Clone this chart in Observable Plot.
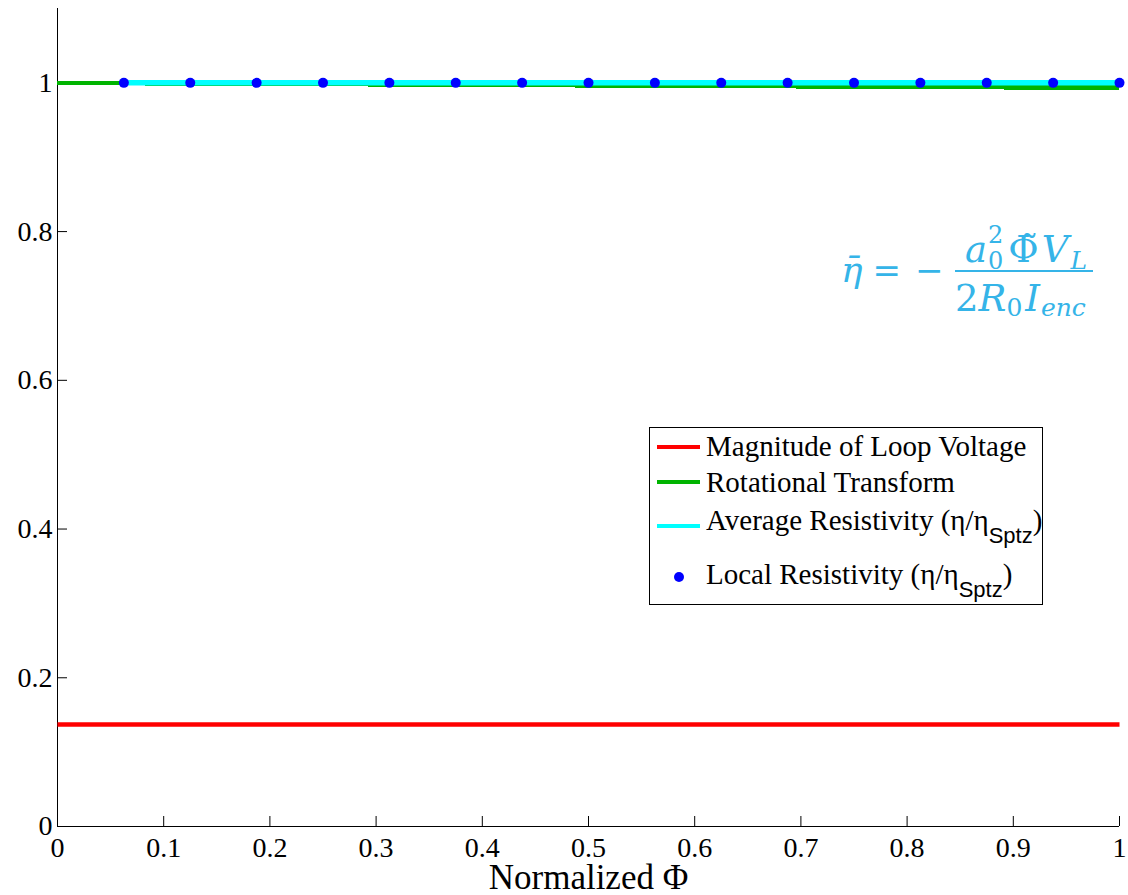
<!DOCTYPE html>
<html>
<head>
<meta charset="utf-8">
<script src="https://cdn.jsdelivr.net/npm/d3@7"></script>
<script src="https://cdn.jsdelivr.net/npm/@observablehq/plot@0.6"></script>
<style>
  body { margin: 0; background: #fff; }
  #chart { position: relative; width: 1128px; height: 895px; }
  #chart svg { font-family: "Liberation Serif", "Times New Roman", serif; }
  #chart svg.overlay { position: absolute; left: 0; top: 0; pointer-events: none; }
  #chart svg .math { font-family: "DejaVu Serif", serif; }
  .crisp { shape-rendering: crispEdges; }
</style>
</head>
<body>
<div id="chart"></div>
<script>
// Normalized toroidal flux at the sampled flux surfaces
const phi = [0, 0.0625, 0.125, 0.1875, 0.25, 0.3125, 0.375, 0.4375, 0.5,
             0.5625, 0.625, 0.6875, 0.75, 0.8125, 0.875, 0.9375, 1];
// Magnitude of loop voltage (normalized)
const loopVoltage = [0.137, 0.137, 0.137, 0.137, 0.137, 0.137, 0.137, 0.137, 0.137,
                     0.137, 0.137, 0.137, 0.137, 0.137, 0.137, 0.137, 0.137];
// Rotational transform (normalized)
const rotationalTransform = [1.0, 0.9996, 0.9992, 0.9988, 0.9984, 0.9980, 0.9975, 0.9971, 0.9967,
                             0.9963, 0.9959, 0.9955, 0.9950, 0.9946, 0.9942, 0.9938, 0.9934];
// Flux-averaged resistivity eta/eta_Spitzer (undefined on axis)
const averageResistivity = [null, 1, 1, 1, 1, 1, 1, 1, 1, 1, 1, 1, 1, 1, 1, 1, 1];
// Local resistivity eta/eta_Spitzer at each surface
const localPhi = [0.0625, 0.125, 0.1875, 0.25, 0.3125, 0.375, 0.4375, 0.5,
                  0.5625, 0.625, 0.6875, 0.75, 0.8125, 0.875, 0.9375, 1];
const localResistivity = [1, 1, 1, 1, 1, 1, 1, 1, 1, 1, 1, 1, 1, 1, 1, 1];

const xTicks = [0, 0.1, 0.2, 0.3, 0.4, 0.5, 0.6, 0.7, 0.8, 0.9, 1];
const yTicks = [0, 0.2, 0.4, 0.6, 0.8, 1];
const xLabel = "Normalized Φ";

const seriesNames = ["Magnitude of Loop Voltage", "Rotational Transform",
                     "Average Resistivity (η/η", "Local Resistivity (η/η"];
const seriesSubs = [null, null, "Sptz", "Sptz"];
const seriesColors = ["#ff0000", "#00b400", "#00ffff", "#0000ff"];
const formulaColor = "#35b4e8";

const rows = phi.map((p, i) => ({
  phi: p,
  loop: loopVoltage[i],
  rot: rotationalTransform[i],
  avg: averageResistivity[i]
}));
const local = localPhi.map((p, i) => ({phi: p, eta: localResistivity[i]}));

const plot = Plot.plot({
  width: 1128,
  height: 895,
  marginLeft: 57,
  marginRight: 9,
  marginTop: 8,
  marginBottom: 69,
  style: {fontFamily: "Liberation Serif", background: "#fff", color: "#000", overflow: "visible"},
  x: {domain: [0, 1]},
  y: {domain: [0, 1.1]},
  marks: [
    Plot.axisX({ticks: xTicks, tickSize: -10, tickPadding: 21, fontSize: 28, label: null,
                tickFormat: d => String(d)}),
    Plot.axisY({ticks: yTicks, tickSize: -10, tickPadding: 15, fontSize: 28, label: null,
                tickFormat: d => String(d)}),
    Plot.ruleX([0], {stroke: "#000"}),
    Plot.ruleY([0], {stroke: "#000"}),
    Plot.text([xLabel], {frameAnchor: "bottom", dy: 62, fontSize: 35, fill: "#000"}),
    Plot.line(rows, {x: "phi", y: "loop", stroke: seriesColors[0], strokeWidth: 4.5, strokeLinecap: "butt"}),
    Plot.line(rows, {x: "phi", y: "rot", stroke: seriesColors[1], strokeWidth: 4.5, strokeLinecap: "butt", className: "crisp"}),
    Plot.line(rows, {x: "phi", y: "avg", stroke: seriesColors[2], strokeWidth: 5.5, strokeLinecap: "butt"}),
    Plot.dot(local, {x: "phi", y: "eta", r: 5, fill: seriesColors[3], stroke: "none"})
  ]
});

const chart = document.getElementById("chart");
chart.appendChild(plot);

// Overlay: legend box and formula annotation
const ov = d3.select(chart).append("svg")
  .attr("class", "overlay")
  .attr("width", 1128).attr("height", 895);

// Legend
const lg = ov.append("g").attr("transform", "translate(649,427)");
lg.append("rect").attr("x", 0.5).attr("y", 0.5).attr("width", 393).attr("height", 177)
  .attr("fill", "#fff").attr("stroke", "#000").attr("stroke-width", 1);
const swatchY = [20, 55, 99, 150];
const textY = [29, 65, 103, 157];
seriesNames.forEach((name, i) => {
  if (i < 3) {
    lg.append("line").attr("x1", 8).attr("x2", 51)
      .attr("y1", swatchY[i]).attr("y2", swatchY[i])
      .attr("stroke", seriesColors[i]).attr("stroke-width", 4);
  } else {
    lg.append("circle").attr("cx", 30).attr("cy", swatchY[i]).attr("r", 5)
      .attr("fill", seriesColors[i]);
  }
  const t = lg.append("text").attr("x", 57).attr("y", textY[i])
    .attr("font-size", 29).attr("fill", "#000");
  t.append("tspan").text(name);
  if (seriesSubs[i]) {
    t.append("tspan").attr("dy", 13).attr("font-size", 22)
      .style("font-family", "'Liberation Sans', Arial, sans-serif").text(seriesSubs[i]);
    t.append("tspan").attr("dy", -13).text(")");
  }
});

// Formula: eta-bar = - a0^2 Phi~ V_L / (2 R0 I_enc)
const fg = ov.append("g").attr("class", "math").attr("fill", formulaColor);
// left-hand side
const lhs = fg.append("text").attr("class", "math").attr("x", 841).attr("y", 282).attr("font-size", 36);
lhs.append("tspan").attr("font-style", "italic").text("η\u0304");
lhs.append("tspan").attr("dx", 10).attr("font-size", 34).text("=");
lhs.append("tspan").attr("dx", 14).attr("font-size", 34).text("−");
// fraction bar
fg.append("rect").attr("x", 955).attr("y", 270).attr("width", 138).attr("height", 2);
// numerator
const num = fg.append("text").attr("class", "math").attr("x", 965).attr("y", 262).attr("font-size", 37);
num.append("tspan").attr("font-style", "italic").text("a");
num.append("tspan").attr("font-size", 24).attr("dx", 1).attr("dy", -19).text("2");
num.append("tspan").attr("font-size", 24).attr("dx", -15.3).attr("dy", 26).text("0");
num.append("tspan").attr("dx", 5).attr("dy", -7).text("Φ\u0303");
num.append("tspan").attr("font-style", "italic").attr("dx", 3).text("V");
num.append("tspan").attr("font-style", "italic").attr("font-size", 25).attr("dx", 2).attr("dy", 7).text("L");
// denominator
const den = fg.append("text").attr("class", "math").attr("x", 955).attr("y", 311).attr("font-size", 37);
den.append("tspan").text("2");
den.append("tspan").attr("font-style", "italic").text("R");
den.append("tspan").attr("font-size", 25).attr("dy", 5).text("0");
den.append("tspan").attr("font-style", "italic").attr("dx", 3).attr("dy", -5).text("I");
den.append("tspan").attr("font-style", "italic").attr("font-size", 25).attr("dx", 1).attr("dy", 5).text("enc");
</script>
</body>
</html>
